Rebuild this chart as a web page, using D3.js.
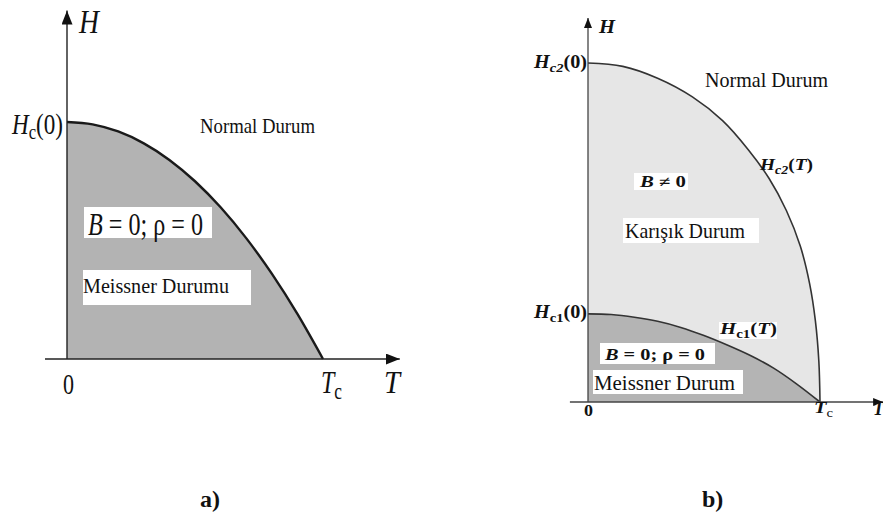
<!DOCTYPE html>
<html>
<head>
<meta charset="utf-8">
<script src="https://cdn.jsdelivr.net/npm/d3@7/dist/d3.min.js"></script>
<style>
  html, body { margin: 0; padding: 0; background: #fff; }
  svg { display: block; }
  text { font-family: "Liberation Serif", "Times New Roman", serif; fill: #111; }
</style>
</head>
<body>
<svg id="chart" width="883" height="525"></svg>
<script>
// ---- Panel a): type-I superconductor, critical field Hc(T) (normalised T/Tc, H/Hc(0))
const hcT = [0, 0.1, 0.2, 0.3, 0.4, 0.5, 0.6, 0.7, 0.8, 0.9, 1];
const hcH = [1, 0.99, 0.96, 0.91, 0.84, 0.75, 0.64, 0.51, 0.36, 0.19, 0];

// ---- Panel b): type-II superconductor, Hc2(T) and Hc1(T) (normalised to Hc2(0))
const hc2T = [0, 0.15, 0.3, 0.45, 0.58, 0.69, 0.78, 0.855, 0.915, 0.955, 0.98, 0.995, 1];
const hc2H = [1, 0.99, 0.955, 0.9, 0.83, 0.745, 0.66, 0.565, 0.46, 0.35, 0.24, 0.12, 0];
const hc1T = [0, 0.1, 0.2, 0.3, 0.4, 0.5, 0.6, 0.7, 0.8, 0.9, 1];
const hc1H = [0.26, 0.258, 0.25, 0.238, 0.22, 0.196, 0.168, 0.137, 0.1, 0.053, 0];

// Axis label texts
const axisLabelsA = { origin: "0", tc: "T", tcSub: "c", t: "T", h: "H" };
const axisLabelsB = { origin: "0", tc: "T", tcSub: "c", t: "T", h: "H" };
const panelTags = ["a)", "b)"];

const svg = d3.select("#chart");
const defs = svg.append("defs");

function arrowMarker(id, len, half) {
  defs.append("marker")
    .attr("id", id)
    .attr("viewBox", `0 ${-half} ${len} ${2 * half}`)
    .attr("refX", len).attr("refY", 0)
    .attr("markerUnits", "userSpaceOnUse")
    .attr("markerWidth", len).attr("markerHeight", 2 * half)
    .attr("orient", "auto")
    .append("path")
    .attr("d", `M0,${-half}L${len},0L0,${half}Z`)
    .attr("fill", "#111");
}
arrowMarker("arrA", 14, 5.5);
arrowMarker("arrB", 10, 4);

// Rich text: segments [{t, italic, bold, sub}]
function richText(g, x, y, segs, opts = {}) {
  const txt = g.append("text").attr("x", x).attr("y", y)
    .attr("font-size", opts.size || 20);
  if (opts.weight) txt.attr("font-weight", opts.weight);
  if (opts.width) txt.attr("textLength", opts.width).attr("lengthAdjust", "spacingAndGlyphs");
  let inSub = false;
  segs.forEach(s => {
    const ts = txt.append("tspan").text(s.t);
    if (s.italic) ts.attr("font-style", "italic");
    if (s.bold) ts.attr("font-weight", "bold");
    if (s.sub) ts.attr("font-size", (opts.size || 20) * 0.72);
    if (s.sub && !inSub) { ts.attr("dy", opts.subDy || 6); inSub = true; }
    else if (!s.sub && inSub) { ts.attr("dy", -(opts.subDy || 6)); inSub = false; }
  });
  return txt;
}

function whiteBox(g, x, y, w, h) {
  g.append("rect").attr("x", x).attr("y", y).attr("width", w).attr("height", h).attr("fill", "#fff");
}

// ================= Panel a) =================
{
  const g = svg.append("g");
  const x = d3.scaleLinear().domain([0, 1]).range([67, 323]);
  const y = d3.scaleLinear().domain([0, 1]).range([359, 122]);
  const pts = hcT.map((t, i) => [t, hcH[i]]);

  g.append("path").datum(pts)
    .attr("d", d3.area().x(d => x(d[0])).y0(y(0)).y1(d => y(d[1])).curve(d3.curveMonotoneX))
    .attr("fill", "#b3b3b3");
  g.append("path").datum(pts)
    .attr("d", d3.line().x(d => x(d[0])).y(d => y(d[1])).curve(d3.curveMonotoneX))
    .attr("fill", "none").attr("stroke", "#1a1a1a").attr("stroke-width", 2.4);

  // axes
  g.append("line").attr("x1", x(0)).attr("y1", y(0)).attr("x2", x(0)).attr("y2", y(1.47))
    .attr("stroke", "#222").attr("stroke-width", 1.4).attr("marker-end", "url(#arrA)");
  g.append("line").attr("x1", x(-0.086)).attr("y1", y(0)).attr("x2", x(1.3)).attr("y2", y(0))
    .attr("stroke", "#222").attr("stroke-width", 1.4).attr("marker-end", "url(#arrA)");

  // axis labels
  richText(g, 79, 33, [{ t: axisLabelsA.h, italic: true }], { size: 34, width: 20 });
  richText(g, 12, 134, [{ t: "H", italic: true }, { t: "c", sub: true }, { t: "(0)" }], { size: 30, width: 51, subDy: 5 });
  richText(g, 63, 394, [{ t: axisLabelsA.origin }], { size: 30, width: 11 });
  richText(g, 321, 393, [{ t: axisLabelsA.tc, italic: true }, { t: axisLabelsA.tcSub, sub: true }], { size: 32, width: 21, subDy: 6 });
  richText(g, 384, 393, [{ t: axisLabelsA.t, italic: true }], { size: 32, width: 16 });

  // region labels
  richText(g, 200, 133, [{ t: "Normal Durum" }], { size: 22, width: 115 });
  whiteBox(g, 84, 207, 128, 31);
  richText(g, 88, 235, [{ t: "B", italic: true }, { t: " = 0; ρ = 0" }], { size: 31, width: 115 });
  whiteBox(g, 83, 270, 168, 35);
  richText(g, 83, 293, [{ t: "Meissner Durumu" }], { size: 22, width: 146 });
}

// ================= Panel b) =================
{
  const g = svg.append("g");
  const x = d3.scaleLinear().domain([0, 1]).range([588, 820]);
  const y = d3.scaleLinear().domain([0, 1]).range([402, 63]);
  const p2 = hc2T.map((t, i) => [t, hc2H[i]]);
  const p1 = hc1T.map((t, i) => [t, hc1H[i]]);
  const curve = d3.curveCatmullRom.alpha(0.5);
  const area = d3.area().x(d => x(d[0])).y0(y(0)).y1(d => y(d[1])).curve(curve);
  const line = d3.line().x(d => x(d[0])).y(d => y(d[1])).curve(curve);

  g.append("path").datum(p2).attr("d", area).attr("fill", "#e6e6e6");
  g.append("path").datum(p1).attr("d", area).attr("fill", "#b4b4b4");
  g.append("path").datum(p2).attr("d", line).attr("fill", "none").attr("stroke", "#333").attr("stroke-width", 1.6);
  g.append("path").datum(p1).attr("d", line).attr("fill", "none").attr("stroke", "#333").attr("stroke-width", 1.6);

  // axes
  g.append("line").attr("x1", x(0)).attr("y1", y(0)).attr("x2", x(0)).attr("y2", y(1.133))
    .attr("stroke", "#444").attr("stroke-width", 1.3).attr("marker-end", "url(#arrB)");
  g.append("line").attr("x1", x(-0.078)).attr("y1", y(0)).attr("x2", x(1.272)).attr("y2", y(0))
    .attr("stroke", "#444").attr("stroke-width", 1.3).attr("marker-end", "url(#arrB)");

  // axis labels
  richText(g, 599, 33, [{ t: axisLabelsB.h, italic: true, bold: true }], { size: 19, width: 16 });
  richText(g, 534, 68, [{ t: "H", italic: true, bold: true }, { t: "c2", sub: true, italic: true, bold: true }, { t: "(0)", bold: true }], { size: 18, width: 53, subDy: 4 });
  richText(g, 534, 318, [{ t: "H", italic: true, bold: true }, { t: "c1", sub: true, bold: true }, { t: "(0)", bold: true }], { size: 18, width: 53, subDy: 4 });
  richText(g, 584, 416, [{ t: axisLabelsB.origin, bold: true }], { size: 16, width: 9 });
  richText(g, 814, 413, [{ t: axisLabelsB.tc, italic: true, bold: true }, { t: axisLabelsB.tcSub, sub: true }], { size: 17, width: 19, subDy: 4 });
  richText(g, 873, 415, [{ t: axisLabelsB.t, italic: true, bold: true }], { size: 18, width: 11 });

  // curve labels
  richText(g, 760, 170, [{ t: "H", italic: true, bold: true }, { t: "c2", sub: true, italic: true, bold: true }, { t: "(" , bold: true }, { t: "T", italic: true, bold: true }, { t: ")", bold: true }], { size: 17, width: 53, subDy: 4 });
  whiteBox(g, 719, 322, 58, 17);
  richText(g, 720, 334, [{ t: "H", italic: true, bold: true }, { t: "c1", sub: true, bold: true }, { t: "(", bold: true }, { t: "T", italic: true, bold: true }, { t: ")", bold: true }], { size: 17, width: 57, subDy: 4 });

  // region labels
  richText(g, 705, 87, [{ t: "Normal Durum" }], { size: 21, width: 123 });
  whiteBox(g, 634, 173, 54, 17);
  richText(g, 640, 187, [{ t: "B", italic: true, bold: true }, { t: " ≠ 0", bold: true }], { size: 16, width: 46 });
  whiteBox(g, 623, 218, 136, 25);
  richText(g, 625, 238, [{ t: "Karışık Durum" }], { size: 21, width: 120 });
  whiteBox(g, 600, 343, 115, 21);
  richText(g, 605, 360, [{ t: "B", italic: true, bold: true }, { t: " = 0; ρ = 0", bold: true }], { size: 17, width: 100 });
  whiteBox(g, 593, 370, 150, 24);
  richText(g, 594, 390, [{ t: "Meissner Durum" }], { size: 21, width: 141 });
}

// panel tags
svg.append("text").attr("x", 200).attr("y", 507).attr("font-size", 24).attr("font-weight", "bold").text(panelTags[0]);
svg.append("text").attr("x", 702).attr("y", 507).attr("font-size", 24).attr("font-weight", "bold").text(panelTags[1]);
</script>
</body>
</html>
